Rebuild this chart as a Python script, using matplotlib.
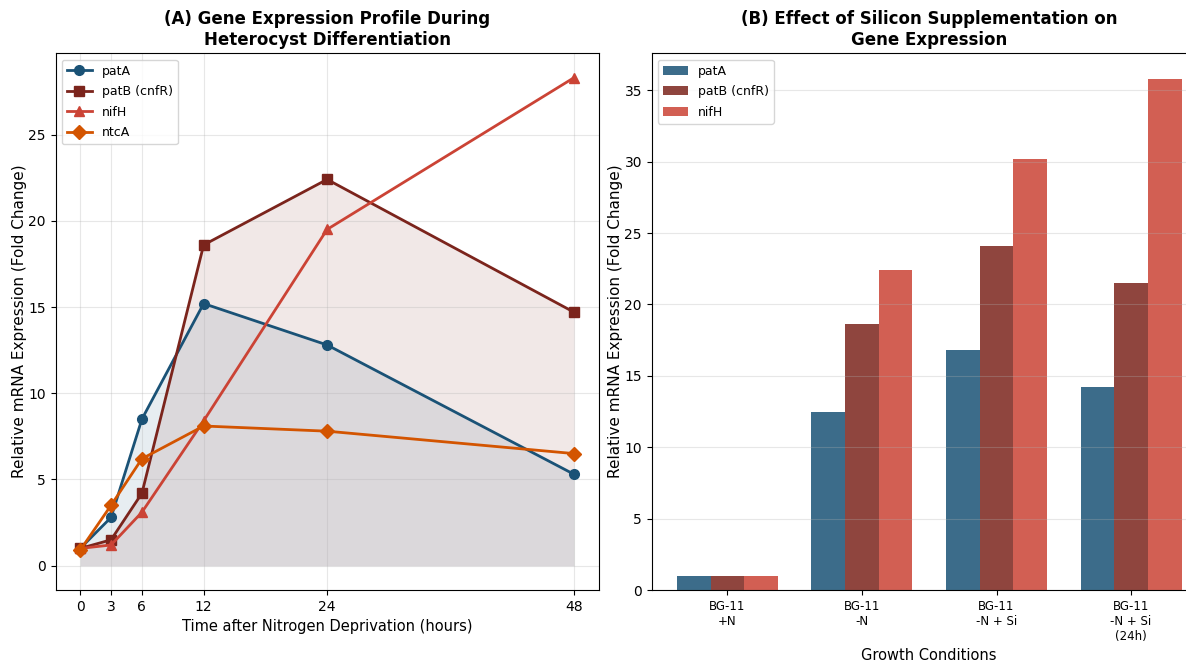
import numpy as np
import matplotlib.pyplot as plt

# (A) time course
hours = [0, 3, 6, 12, 24, 48]
patA_t = [1.0, 2.8, 8.5, 15.2, 12.8, 5.3]
patB_t = [1.0, 1.5, 4.2, 18.6, 22.4, 14.7]
nifH_t = [1.0, 1.2, 3.1, 8.4, 19.5, 28.3]
ntcA_t = [0.9, 3.5, 6.2, 8.1, 7.8, 6.5]

# (B) growth conditions
conditions = ["BG-11\n+N", "BG-11\n-N", "BG-11\n-N + Si", "BG-11\n-N + Si\n(24h)"]
patA_c = [1.0, 12.5, 16.8, 14.2]
patB_c = [1.0, 18.6, 24.1, 21.5]
nifH_c = [1.0, 22.4, 30.2, 35.8]

c_patA = "#1a5276"
c_patB = "#7b241c"
c_nifH = "#cb4335"
c_ntcA = "#d35400"

fig = plt.figure(figsize=(11.86, 6.66), dpi=100)
ax1 = fig.add_axes([0.0468, 0.114, 0.458, 0.806])
ax2 = fig.add_axes([0.5495, 0.114, 0.468, 0.806])

# left panel
ax1.plot(hours, patA_t, marker="o", color=c_patA, lw=2, ms=7, label="patA")
ax1.plot(hours, patB_t, marker="s", color=c_patB, lw=2, ms=7, label="patB (cnfR)")
ax1.plot(hours, nifH_t, marker="^", color=c_nifH, lw=2, ms=7, label="nifH")
ax1.plot(hours, ntcA_t, marker="D", color=c_ntcA, lw=2, ms=7, label="ntcA")
ax1.fill_between(hours, patA_t, color=c_patA, alpha=0.1, lw=0)
ax1.fill_between(hours, patB_t, color=c_patB, alpha=0.1, lw=0)
ax1.set_xticks(hours)
ax1.tick_params(labelsize=10)
ax1.grid(True, alpha=0.3)
ax1.set_xlabel("Time after Nitrogen Deprivation (hours)", fontsize=10.5)
ax1.set_ylabel("Relative mRNA Expression (Fold Change)", fontsize=11, labelpad=1)
ax1.set_title("(A) Gene Expression Profile During\nHeterocyst Differentiation",
              fontsize=12, fontweight="bold")
ax1.legend(loc="upper left", fontsize=9, labelspacing=0.6)

# right panel
x = np.arange(len(conditions))
w = 0.25
ax2.bar(x - w, patA_c, w, color=c_patA, alpha=0.85, label="patA")
ax2.bar(x, patB_c, w, color=c_patB, alpha=0.85, label="patB (cnfR)")
ax2.bar(x + w, nifH_c, w, color=c_nifH, alpha=0.85, label="nifH")
ax2.set_xticks(x)
ax2.set_xticklabels(conditions, fontsize=8.5)
ax2.tick_params(axis="y", labelsize=10)
ax2.grid(True, axis="y", alpha=0.3)
ax2.set_xlabel("Growth Conditions", fontsize=10.5)
ax2.set_ylabel("Relative mRNA Expression (Fold Change)", fontsize=11, labelpad=1)
ax2.set_title("(B) Effect of Silicon Supplementation on\nGene Expression",
              fontsize=12, fontweight="bold")
ax2.legend(loc="upper left", fontsize=9, labelspacing=0.6)

plt.savefig("out.png", dpi=100)
